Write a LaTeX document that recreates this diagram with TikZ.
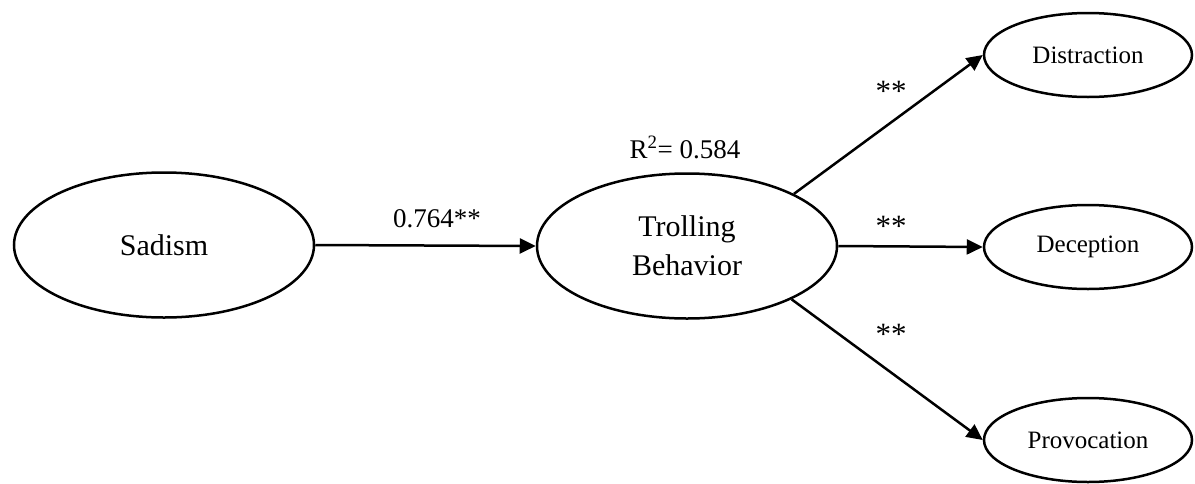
\documentclass[tikz,border=0pt]{standalone}
\usepackage{fontspec}
\setmainfont{Liberation Serif}
\usetikzlibrary{shapes.geometric,arrows.meta}
\tikzset{
  bigell/.style={ellipse, draw, line width=2.5pt, inner sep=0pt, minimum width=300pt, minimum height=145pt, align=center, font=\fontsize{30}{39}\selectfont},
  smallell/.style={ellipse, draw, line width=2.5pt, inner sep=0pt, minimum width=208pt, minimum height=84pt, font=\fontsize{25}{30}\selectfont},
  conn/.style={line width=2.5pt, -{Triangle[length=16pt,width=15pt]}},
  lbl/.style={anchor=base, inner sep=0pt, font=\fontsize{27}{32}\selectfont},
  star/.style={anchor=base, inner sep=0pt, font=\fontsize{31}{36}\selectfont}
}
\begin{document}
\begin{tikzpicture}[x=1pt,y=-1pt]
\useasboundingbox (0,0) rectangle (1195,483);
\node[bigell] (sad) at (164,245) {Sadism};
\node[bigell] (troll) at (687,246) {Trolling\\Behavior};
\node[smallell] (dis) at (1088,55) {Distraction};
\node[smallell] (dec) at (1088,247) {Deception};
\node[smallell] (pro) at (1088,440) {Provocation};
\draw[conn] (sad.east) -- (troll.west);
\draw[conn] (troll.26.6) -- (dis.west);
\draw[conn] (troll.east) -- (dec.west);
\draw[conn] (troll.-27.4) -- (pro.west);
\node[lbl] (r2) at (685,158) {R\textsuperscript{2}= 0.584};
\node[lbl] (b1) at (437,227) {0.764**};
\node[star] (s1) at (891,101) {**};
\node[star] (s2) at (891,236) {**};
\node[star] (s3) at (891,344) {**};
\end{tikzpicture}
\end{document}
